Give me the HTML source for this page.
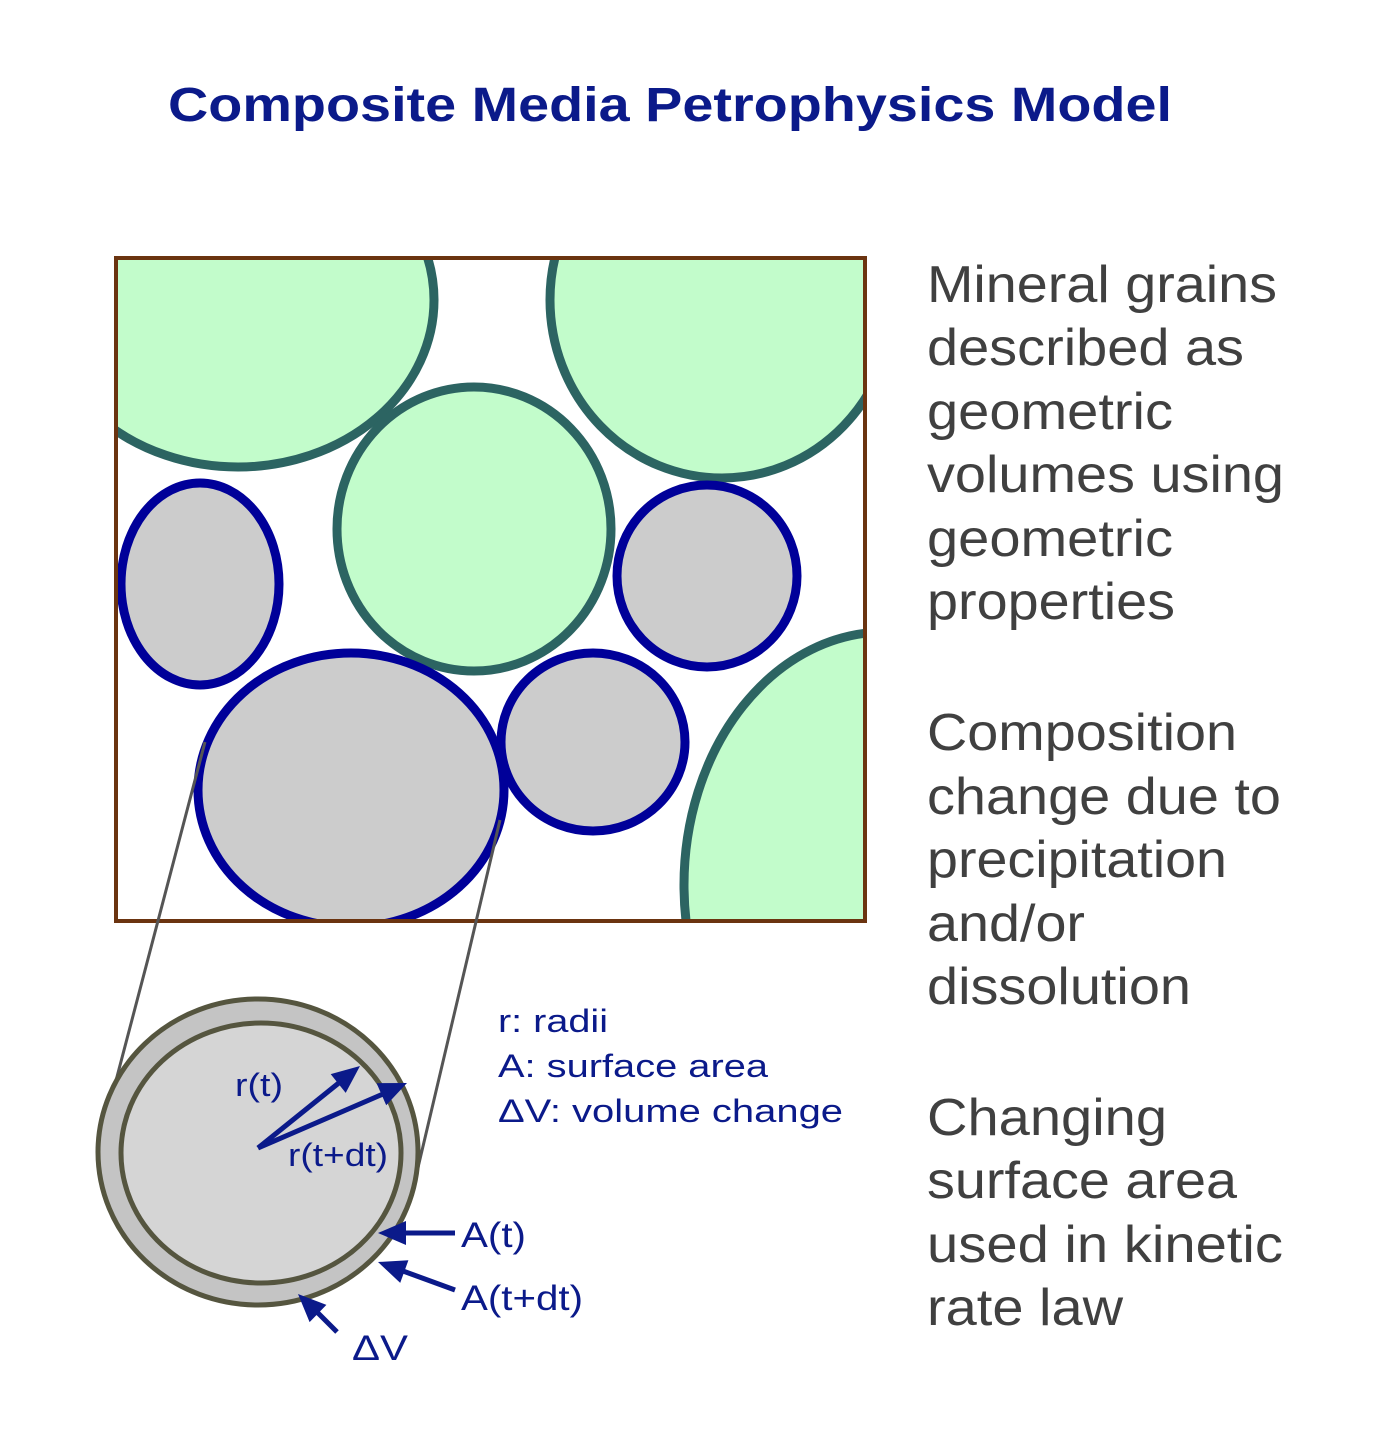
<!DOCTYPE html>
<html><head><meta charset="utf-8"><style>
body{margin:0;background:#fff;}
svg{display:block;}
</style></head><body>
<svg width="1388" height="1448" viewBox="0 0 1388 1448" xmlns="http://www.w3.org/2000/svg">
<defs>
<clipPath id="box"><rect x="116" y="258" width="749" height="663"/></clipPath>
</defs>
<text x="168" y="121" textLength="1004" lengthAdjust="spacingAndGlyphs" font-family="Liberation Sans, sans-serif" font-weight="bold" font-size="48" fill="#0b1a8a">Composite Media Petrophysics Model</text>
<g clip-path="url(#box)">
<rect x="116" y="258" width="749" height="663" fill="#fff"/>
<g fill="#c2fccb" stroke="#2c6462" stroke-width="9">
<ellipse cx="238" cy="300" rx="196" ry="167"/>
<ellipse cx="722" cy="300" rx="172" ry="178"/>
<ellipse cx="474" cy="529" rx="137" ry="142"/>
<ellipse cx="885" cy="885" rx="201" ry="253"/>
</g>
<g fill="#cccccc" stroke="#000099" stroke-width="9">
<ellipse cx="200" cy="584" rx="79" ry="101"/>
<ellipse cx="707" cy="576" rx="90" ry="91"/>
<ellipse cx="351" cy="790" rx="153" ry="137"/>
<ellipse cx="593" cy="742" rx="92" ry="89"/>
</g>
</g>
<rect x="116" y="258" width="749" height="663" fill="none" stroke="#6b3410" stroke-width="4"/>
<line x1="205" y1="742" x2="113" y2="1092" stroke="#555" stroke-width="3"/>
<line x1="500" y1="820" x2="416" y2="1176" stroke="#555" stroke-width="3"/>
<ellipse cx="258" cy="1152" rx="160" ry="153" fill="#c4c4c4" stroke="#55553f" stroke-width="5"/>
<ellipse cx="261" cy="1153" rx="140" ry="130" fill="#d5d5d5" stroke="#55553f" stroke-width="5"/>
<g stroke="#0b1a8a" stroke-width="5" fill="none">
<line x1="258" y1="1148" x2="340" y2="1082"/>
<line x1="258" y1="1148" x2="383" y2="1094"/>
<line x1="455" y1="1233" x2="404" y2="1233"/>
<line x1="455" y1="1290" x2="403" y2="1271"/>
<line x1="337" y1="1332" x2="318" y2="1313"/>
</g>
<g fill="#0b1a8a">
<polygon points="360,1066 345.7,1092.9 330.7,1074.1"/>
<polygon points="407,1083 386.2,1105.2 376.6,1083.2"/>
<polygon points="378,1233 406,1221 406,1245"/>
<polygon points="378,1262 408.4,1260.3 400.2,1282.9"/>
<polygon points="298,1294 326.4,1304.9 309.6,1322.1"/>
</g>
<g font-family="Liberation Sans, sans-serif" fill="#0b1a8a" lengthAdjust="spacingAndGlyphs">
<text x="235" y="1096" font-size="32" textLength="48" lengthAdjust="spacingAndGlyphs">r(t)</text>
<text x="288" y="1166" font-size="32" textLength="100" lengthAdjust="spacingAndGlyphs">r(t+dt)</text>
<text x="461" y="1247" font-size="35" textLength="65" lengthAdjust="spacingAndGlyphs">A(t)</text>
<text x="461" y="1310" font-size="35" textLength="122" lengthAdjust="spacingAndGlyphs">A(t+dt)</text>
<text x="352" y="1360" font-size="35" textLength="56" lengthAdjust="spacingAndGlyphs">ΔV</text>
<text x="498" y="1032" font-size="32" textLength="110" lengthAdjust="spacingAndGlyphs">r: radii</text>
<text x="498" y="1077" font-size="32" textLength="270" lengthAdjust="spacingAndGlyphs">A: surface area</text>
<text x="498" y="1122" font-size="32" textLength="345" lengthAdjust="spacingAndGlyphs">ΔV: volume change</text>
</g>
<g font-family="Liberation Sans, sans-serif" font-size="52" fill="#404040">
<text x="927" y="302" textLength="350" lengthAdjust="spacingAndGlyphs">Mineral grains</text>
<text x="927" y="365" textLength="317" lengthAdjust="spacingAndGlyphs">described as</text>
<text x="927" y="429" textLength="246" lengthAdjust="spacingAndGlyphs">geometric</text>
<text x="927" y="492" textLength="357" lengthAdjust="spacingAndGlyphs">volumes using</text>
<text x="927" y="556" textLength="246" lengthAdjust="spacingAndGlyphs">geometric</text>
<text x="927" y="619" textLength="248" lengthAdjust="spacingAndGlyphs">properties</text>
<text x="927" y="750" textLength="310" lengthAdjust="spacingAndGlyphs">Composition</text>
<text x="927" y="814" textLength="354" lengthAdjust="spacingAndGlyphs">change due to</text>
<text x="927" y="877" textLength="300" lengthAdjust="spacingAndGlyphs">precipitation</text>
<text x="927" y="941" textLength="158" lengthAdjust="spacingAndGlyphs">and/or</text>
<text x="927" y="1004" textLength="264" lengthAdjust="spacingAndGlyphs">dissolution</text>
<text x="927" y="1135" textLength="240" lengthAdjust="spacingAndGlyphs">Changing</text>
<text x="927" y="1198" textLength="310" lengthAdjust="spacingAndGlyphs">surface area</text>
<text x="927" y="1262" textLength="356" lengthAdjust="spacingAndGlyphs">used in kinetic</text>
<text x="927" y="1325" textLength="196" lengthAdjust="spacingAndGlyphs">rate law</text>
</g>
</svg>
</body></html>
